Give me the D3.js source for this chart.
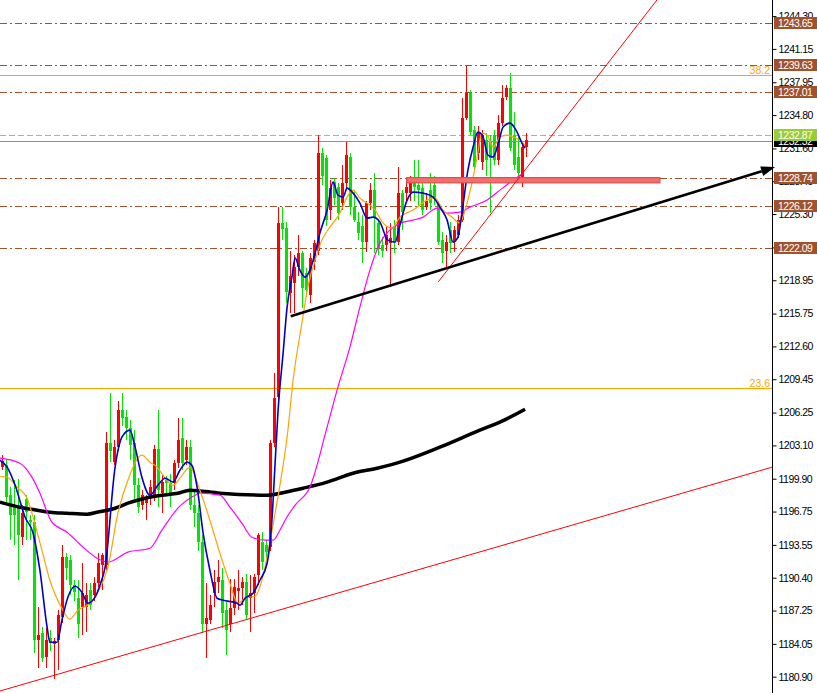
<!DOCTYPE html>
<html>
<head>
<meta charset="utf-8">
<script src="https://cdn.jsdelivr.net/npm/d3@7"></script>
<style>
  body { margin: 0; background: #fff; }
  text { font-family: "Liberation Sans", Arial, sans-serif; }
</style>
</head>
<body>
<div id="chart"></div>
<script>
// candles (oldest -> newest)
const opens = [1201.0,1201.2,1198.3,1197.4,1197.1,1194.3,1198.0,1195.9,1195.7,1184.4,
  1185.1,1182.8,1184.6,1184.0,1184.4,1186.6,1192.4,1192.1,1189.7,1188.5,
  1187.6,1187.6,1189.2,1188.7,1189.9,1191.6,1191.6,1203.3,1201.5,1202.9,
  1206.5,1205.8,1204.8,1203.3,1199.3,1197.4,1197.6,1198.1,1198.3,1202.8,
  1198.5,1199.8,1199.5,1199.5,1201.4,1203.8,1201.7,1202.9,1197.4,1196.6,
  1193.8,1186.0,1186.3,1188.9,1190.0,1190.2,1187.3,1186.0,1187.5,1189.1,
  1189.4,1190.0,1188.5,1188.9,1190.7,1193.8,1193.5,1193.3,1203.3,1207.7,
  1224.4,1224.0,1217.7,1218.7,1220.2,1221.6,1219.6,1217.5,1220.7,1221.8,
  1231.2,1230.7,1225.7,1228.4,1227.9,1226.4,1228.3,1230.8,1226.0,1224.5,
  1224.2,1222.6,1226.4,1227.6,1224.4,1222.3,1222.3,1222.5,1224.2,1222.6,
  1227.3,1227.3,1227.3,1228.3,1228.1,1227.8,1226.0,1227.6,1228.1,1226.4,
  1222.8,1221.8,1223.8,1222.6,1223.3,1224.7,1234.5,1236.9,1233.4,1231.2,
  1230.3,1232.4,1232.2,1232.9,1230.5,1234.0,1236.5,1237.4,1232.9,1230.8,
  1228.6,1231.7];
const highs = [1202.2,1201.7,1199.1,1199.8,1199.9,1197.4,1198.3,1196.4,1196.4,1187.6,
  1185.7,1185.6,1185.4,1184.6,1187.3,1193.5,1192.8,1192.6,1190.2,1190.2,
  1191.8,1189.9,1189.9,1190.5,1192.8,1192.8,1204.4,1208.1,1203.6,1207.4,
  1208.1,1206.5,1205.5,1204.6,1200.0,1198.8,1198.3,1199.8,1203.1,1206.5,
  1200.4,1200.2,1200.4,1201.7,1205.7,1205.7,1203.6,1203.6,1198.8,1197.4,
  1194.5,1189.9,1188.7,1191.1,1192.1,1191.3,1188.2,1190.3,1190.3,1191.1,
  1190.5,1190.8,1190.7,1190.8,1194.7,1194.8,1194.0,1203.6,1210.0,1226.0,
  1226.0,1224.5,1221.8,1221.4,1223.3,1221.8,1220.1,1221.6,1222.8,1232.9,
  1231.6,1231.0,1228.6,1228.8,1228.3,1230.0,1232.2,1231.2,1227.6,1225.5,
  1225.2,1226.6,1228.3,1229.2,1224.7,1223.1,1224.2,1224.4,1224.7,1229.8,
  1227.6,1228.8,1229.0,1230.5,1230.5,1228.6,1227.3,1229.2,1229.0,1226.6,
  1223.6,1223.3,1224.5,1224.2,1225.2,1236.4,1239.5,1237.2,1233.8,1233.8,
  1233.4,1233.1,1232.9,1233.4,1234.8,1237.7,1237.7,1238.8,1235.1,1232.7,
  1231.9,1233.1];
const lows = [1200.7,1197.4,1194.0,1193.5,1190.2,1193.5,1194.0,1194.0,1183.2,1181.7,
  1182.3,1181.7,1183.4,1180.7,1181.5,1186.1,1190.2,1188.7,1188.2,1184.6,
  1184.9,1185.2,1187.3,1188.2,1189.5,1189.2,1191.1,1201.5,1201.2,1202.6,
  1205.0,1203.6,1201.7,1197.8,1196.6,1196.9,1195.9,1197.4,1197.8,1197.2,
  1196.6,1198.3,1197.2,1198.8,1200.9,1200.7,1201.2,1196.9,1195.3,1193.0,
  1185.1,1182.7,1186.0,1187.6,1188.9,1185.6,1183.0,1185.2,1186.8,1187.3,
  1187.8,1186.3,1185.2,1187.0,1189.7,1191.1,1192.1,1193.0,1202.9,1207.4,
  1222.8,1216.8,1215.8,1215.8,1219.4,1216.3,1217.3,1216.8,1219.9,1221.4,
  1228.1,1224.2,1224.7,1226.2,1224.7,1225.7,1227.6,1225.2,1224.5,1222.8,
  1220.6,1221.7,1225.7,1221.6,1221.4,1221.2,1221.8,1218.5,1221.6,1222.3,
  1223.8,1226.6,1226.6,1226.6,1226.0,1225.2,1225.7,1225.7,1226.2,1222.3,
  1220.6,1220.2,1221.6,1221.7,1223.0,1224.5,1234.3,1232.9,1229.5,1230.5,
  1229.5,1229.0,1225.4,1230.0,1230.0,1233.8,1236.2,1231.4,1229.5,1228.3,
  1227.9,1230.8];
const closes = [1201.6,1198.1,1196.4,1196.4,1194.5,1196.6,1196.7,1195.7,1184.4,1184.9,
  1182.7,1184.4,1184.1,1184.3,1186.8,1192.4,1191.3,1189.7,1189.0,1186.0,
  1188.9,1188.7,1187.8,1189.9,1191.8,1192.6,1203.3,1202.6,1202.9,1206.5,
  1205.7,1204.8,1203.1,1199.3,1197.2,1198.3,1198.1,1199.1,1202.8,1198.8,
  1199.6,1199.5,1198.5,1201.4,1203.6,1201.4,1202.9,1197.4,1196.6,1193.8,
  1186.0,1186.5,1187.8,1190.0,1190.5,1187.0,1185.4,1187.5,1189.5,1189.4,
  1190.0,1186.8,1188.9,1190.5,1194.5,1191.9,1192.9,1203.3,1207.6,1224.4,
  1223.9,1217.8,1219.4,1220.2,1221.6,1218.2,1218.0,1221.1,1222.5,1231.2,
  1229.0,1224.7,1227.8,1226.8,1225.4,1228.3,1231.0,1226.0,1224.7,1223.5,
  1222.6,1226.4,1227.6,1225.0,1222.0,1221.8,1223.3,1223.0,1222.6,1227.3,
  1225.5,1227.9,1228.4,1227.9,1227.6,1225.7,1226.6,1226.4,1226.8,1222.6,
  1221.6,1222.6,1222.5,1223.8,1224.7,1234.5,1236.9,1233.2,1229.8,1233.2,
  1232.9,1230.5,1230.7,1230.5,1234.0,1236.4,1237.4,1231.6,1230.0,1229.2,
  1231.7,1232.4];

// moving averages as [bar index, price]
const maBlue = [[-0.7,1201.68],[1.1,1201.01],[3.1,1199.28],[5.6,1196.21],[7.6,1194.67],[9.3,1191.12],
  [11.1,1185.65],[11.8,1184.21],[13.6,1184.21],[14.8,1186.32],[16.3,1188.53],[18.1,1189.58],
  [19.8,1189.01],[21.3,1187.95],[23.1,1188.53],[24.3,1189.68],[25.6,1191.41],[28.1,1201.01],
  [29.8,1203.89],[31.8,1204.56],[33.1,1202.93],[34.8,1200.05],[36.8,1198.32],[38.8,1199.28],
  [40.6,1199.95],[42.6,1199.57],[44.3,1200.72],[46.1,1201.49],[47.3,1201.2],[48.6,1199.09],
  [50.1,1194.67],[51.8,1191.12],[53.6,1188.43],[55.1,1188.24],[58.6,1187.95],[59.3,1187.76],
  [60.6,1188.43],[62.6,1188.91],[64.3,1190.16],[66.1,1191.79],[67.3,1195.92],[68.1,1201.39],
  [68.8,1206.19],[70.1,1211.95],[71.1,1216.37],[72.3,1219.25],[73.1,1221.07],[74.3,1219.92],
  [75.6,1219.25],[76.8,1219.92],[78.1,1221.55],[79.3,1223.47],[81.1,1225.68],[82.6,1228.37],
  [83.8,1227.12],[85.1,1226.93],[86.1,1227.79],[87.6,1227.31],[89.3,1226.35],[91.1,1224.91],
  [92.6,1225.01],[94.3,1224.53],[96.3,1222.80],[98.1,1222.61],[99.3,1224.24],[101.1,1226.64],
  [102.6,1227.41],[105.1,1227.31],[107.6,1226.93],[109.3,1225.97],[111.1,1224.72],[112.6,1222.61],
  [113.8,1223.09],[114.8,1225.39],[116.3,1229.52],[117.6,1231.73],[118.8,1233.17],[120.1,1232.69],
  [121.3,1230.96],[122.6,1230.77],[123.8,1231.92],[125.1,1233.65],[126.8,1234.03],[128.6,1233.17],
  [129.8,1232.11],[130.6,1231.63]];
const maOrange = [[-0.7,1200.14],[1.1,1200.05],[3.6,1199.09],[6.1,1198.03],[7.6,1196.21],[9.8,1193.04],
  [11.8,1190.16],[14.8,1187.47],[16.8,1186.42],[18.8,1187.28],[21.8,1187.95],[23.8,1189.01],
  [26.3,1191.41],[28.8,1196.59],[31.3,1199.76],[34.8,1202.16],[36.8,1201.49],[38.6,1201.01],
  [40.6,1199.95],[42.6,1199.28],[44.3,1199.95],[46.3,1200.91],[46.8,1201.01],[49.3,1198.80],
  [51.8,1195.92],[54.3,1192.75],[56.8,1189.87],[58.8,1187.95],[61.1,1188.53],[63.1,1188.62],
  [64.8,1190.16],[66.3,1192.75],[68.1,1196.59],[69.8,1200.43],[71.1,1203.89],[72.6,1209.36],
  [74.8,1214.83],[76.3,1218.29],[78.1,1220.88],[79.8,1222.80],[81.8,1224.05],[84.3,1225.39],
  [86.1,1226.93],[87.6,1227.60],[89.3,1226.83],[91.1,1226.35],[93.1,1225.68],[95.1,1224.43],
  [97.3,1223.95],[99.3,1225.01],[102.6,1225.68],[106.1,1226.64],[108.1,1226.83],[110.1,1225.68],
  [112.3,1225.01],[114.3,1224.43],[115.6,1225.68],[117.3,1228.27],[118.6,1230.77],[119.8,1233.07],
  [121.1,1232.88],[122.6,1231.73],[124.3,1232.69],[126.1,1232.88],[127.6,1232.69],[129.3,1232.40],
  [130.6,1231.92]];
const maMagenta = [[-0.7,1201.87],[4.3,1201.39],[7.3,1200.05],[9.3,1198.51],[12.3,1195.73],[16.1,1194.77],
  [20.1,1193.33],[23.6,1192.27],[26.3,1191.89],[31.3,1192.85],[36.8,1193.23],[39.8,1194.96],
  [43.8,1197.07],[48.1,1198.32],[49.3,1198.51],[54.3,1198.32],[56.8,1197.17],[59.8,1195.63],
  [62.3,1194.29],[65.6,1194.00],[67.6,1194.00],[69.3,1194.96],[70.6,1195.92],[73.1,1197.36],
  [76.8,1199.09],[81.1,1204.85],[83.8,1208.69],[86.8,1212.53],[89.3,1216.37],[91.8,1219.92],
  [94.3,1222.51],[96.8,1223.76],[99.3,1224.43],[102.6,1224.72],[105.1,1225.01],[108.6,1225.87],
  [111.1,1225.39],[114.3,1225.49],[116.8,1225.97],[121.1,1226.64],[124.3,1227.60],[127.6,1228.56],
  [130.1,1229.23]];
const maBlack = [[-0.7,1197.65],[4.3,1197.17],[8.6,1196.88],[11.8,1196.69],[16.1,1196.59],[21.1,1196.50],
  [23.6,1196.69],[28.1,1197.07],[31.3,1197.55],[35.6,1198.03],[39.8,1198.32],[43.8,1198.51],
  [46.8,1198.80],[54.3,1198.51],[66.1,1198.32],[70.6,1198.61],[75.1,1198.99],[81.1,1199.57],
  [87.6,1200.43],[93.6,1200.91],[99.3,1201.49],[109.3,1202.93],[119.3,1204.56],[124.3,1205.33],
  [130.6,1206.57]];

// horizontal objects
const levelPrices = [1243.65, 1239.63, 1237.01, 1228.74, 1226.12, 1222.09];
const askPrice = 1232.87;
const bidPrice = 1232.32;
const fibNames = ['38.2', '23.6'];
const fibPrices = [1238.64, 1208.59];
const tickLabels = [1180.90, 1184.05, 1187.25, 1190.40, 1193.55, 1196.75, 1199.90, 1203.10,
  1206.25, 1209.45, 1212.60, 1215.75, 1218.95, 1222.10, 1225.30, 1228.45, 1231.60, 1234.80,
  1237.95, 1241.15, 1244.30];

// trend objects: [bar index, price]
const supportLine = [[13, 1181.05], [130, 1194.07]];
const steepLine = [[108.9, 1218.8], [134.3, 1231.37]];
const arrowLine = [[72.0, 1215.5], [193.1, 1229.81]];
const zoneBox = [[101, 1228.80], [164.3, 1228.30]];

const config = { div: '#chart', width: 817, height: 693, axisX: 772 };

const svg = d3.select(config.div).append('svg')
  .attr('width', config.width)
  .attr('height', config.height);

svg.append('rect').attr('width', config.width).attr('height', config.height).attr('fill', '#fff');

const x = d3.scaleLinear().domain([0, 131]).range([2.7, 526.7]);
const y = d3.scaleLinear().domain([1180.90, 1244.30]).range([676.7, 16.1]);

svg.append('clipPath').attr('id', 'plot')
  .append('rect').attr('x', 0).attr('y', 0).attr('width', config.axisX).attr('height', config.height);

const plot = svg.append('g').attr('clip-path', 'url(#plot)');

// horizontal level lines
plot.selectAll('line.level').data(levelPrices).enter().append('line')
  .attr('class', 'level')
  .attr('x1', 0).attr('x2', config.axisX)
  .attr('y1', d => Math.round(y(d)) + 0.5).attr('y2', d => Math.round(y(d)) + 0.5)
  .attr('stroke', '#a0522d').attr('stroke-dasharray', '7,3,2,3');

plot.append('line')
  .attr('x1', 0).attr('x2', config.axisX)
  .attr('y1', Math.round(y(askPrice)) + 0.5).attr('y2', Math.round(y(askPrice)) + 0.5)
  .attr('stroke', '#9acd32').attr('stroke-dasharray', '6,3');

plot.append('line')
  .attr('x1', 0).attr('x2', config.axisX)
  .attr('y1', Math.round(y(bidPrice)) + 0.5).attr('y2', Math.round(y(bidPrice)) + 0.5)
  .attr('stroke', '#8a9099');

fibPrices.forEach((p, k) => {
  plot.append('line')
    .attr('x1', 0).attr('x2', config.axisX)
    .attr('y1', Math.round(y(p)) + 0.5).attr('y2', Math.round(y(p)) + 0.5)
    .attr('stroke', '#ffa500');
  plot.append('text')
    .attr('x', config.axisX - 2).attr('y', Math.round(y(p)) - 1.5)
    .attr('text-anchor', 'end').attr('font-size', 10.5)
    .attr('fill', '#ffa500').text(fibNames[k]);
});

// candles
const bars = d3.range(opens.length).map(i => ({
  i: i, o: opens[i], h: highs[i], l: lows[i], c: closes[i]
}));
const up = d => d.c >= d.o;
const colour = d => up(d) ? '#ff0000' : '#00e600';

const cg = plot.append('g').attr('shape-rendering', 'crispEdges');
cg.selectAll('line').data(bars).enter().append('line')
  .attr('x1', d => Math.floor(x(d.i)) + 0.5)
  .attr('x2', d => Math.floor(x(d.i)) + 0.5)
  .attr('y1', d => y(Math.max(d.h, d.o, d.c)))
  .attr('y2', d => y(Math.min(d.l, d.o, d.c)))
  .attr('stroke', colour);
cg.selectAll('rect').data(bars).enter().append('rect')
  .attr('x', d => Math.floor(x(d.i)) - 1)
  .attr('width', 3)
  .attr('y', d => Math.round(y(Math.max(d.o, d.c))))
  .attr('height', d => Math.max(1, Math.round(y(Math.min(d.o, d.c))) - Math.round(y(Math.max(d.o, d.c)))))
  .attr('fill', colour);

// moving averages
const line = d3.line().x(d => x(d[0])).y(d => y(d[1])).curve(d3.curveMonotoneX);
plot.append('path').datum(maBlack).attr('d', line).attr('fill', 'none').attr('stroke', '#000').attr('stroke-width', 3.5);
plot.append('path').datum(maMagenta).attr('d', line).attr('fill', 'none').attr('stroke', '#ff00ff').attr('stroke-width', 1.2);
plot.append('path').datum(maOrange).attr('d', line).attr('fill', 'none').attr('stroke', '#ffa500').attr('stroke-width', 1.2);
plot.append('path').datum(maBlue).attr('d', line).attr('fill', 'none').attr('stroke', '#0000cd').attr('stroke-width', 1.6);

// zone box
plot.append('rect')
  .attr('x', x(zoneBox[0][0])).attr('width', x(zoneBox[1][0]) - x(zoneBox[0][0]))
  .attr('y', y(zoneBox[0][1])).attr('height', y(zoneBox[1][1]) - y(zoneBox[0][1]))
  .attr('fill', '#f07070').attr('stroke', '#e84848').attr('stroke-width', 1.2);

// trend lines, extended in pixel space
function extend(pts, both) {
  const x0 = x(pts[0][0]), y0 = y(pts[0][1]);
  const x1 = x(pts[1][0]), y1 = y(pts[1][1]);
  const k = (y1 - y0) / (x1 - x0);
  const xa = both ? 0 : x0;
  const xb = config.axisX;
  return [[xa, y0 + (xa - x0) * k], [xb, y0 + (xb - x0) * k]];
}
const sup = extend(supportLine, true);
plot.append('line')
  .attr('x1', sup[0][0]).attr('y1', sup[0][1]).attr('x2', sup[1][0]).attr('y2', sup[1][1])
  .attr('stroke', '#ff0000').attr('stroke-width', 1);
const st = extend(steepLine, false);
plot.append('line')
  .attr('x1', st[0][0]).attr('y1', st[0][1]).attr('x2', st[1][0]).attr('y2', st[1][1])
  .attr('stroke', '#ff0000').attr('stroke-width', 1);

// arrow
const ax0 = x(arrowLine[0][0]), ay0 = y(arrowLine[0][1]);
const ax1 = x(arrowLine[1][0]), ay1 = y(arrowLine[1][1]);
const ang = Math.atan2(ay1 - ay0, ax1 - ax0);
const headLen = 14, headW = 5;
const bx = ax1 - headLen * Math.cos(ang), by = ay1 - headLen * Math.sin(ang);
svg.append('line')
  .attr('x1', ax0).attr('y1', ay0).attr('x2', bx).attr('y2', by)
  .attr('stroke', '#000').attr('stroke-width', 2.6);
svg.append('path')
  .attr('d', `M${ax1},${ay1}L${bx - headW * Math.sin(ang)},${by + headW * Math.cos(ang)}L${bx + headW * Math.sin(ang)},${by - headW * Math.cos(ang)}Z`)
  .attr('fill', '#000');

// price axis
svg.append('line')
  .attr('x1', config.axisX + 0.5).attr('x2', config.axisX + 0.5)
  .attr('y1', 0).attr('y2', config.height)
  .attr('stroke', '#000');

const yAxis = svg.append('g')
  .attr('transform', `translate(${config.axisX + 0.5},0)`)
  .call(d3.axisRight(y).tickValues(tickLabels).tickSize(4).tickPadding(2).tickFormat(d3.format('.2f')));
yAxis.select('.domain').remove();
yAxis.selectAll('line').attr('stroke', '#000');
yAxis.selectAll('text')
  .attr('font-family', '"Liberation Sans", Arial, sans-serif')
  .attr('font-size', 10.5).attr('letter-spacing', -0.5).attr('fill', '#000');

// price tags on the axis
function tag(p, fill) {
  const yy = Math.round(y(p));
  svg.append('rect')
    .attr('x', config.axisX + 2).attr('y', yy - 6).attr('width', 43).attr('height', 12)
    .attr('fill', fill);
  svg.append('text')
    .attr('x', config.axisX + 6).attr('y', yy).attr('dy', '0.35em')
    .attr('font-size', 10.5).attr('letter-spacing', -0.5).attr('fill', '#fff')
    .text(d3.format('.2f')(p));
}
levelPrices.forEach(p => tag(p, '#a0522d'));
tag(bidPrice, '#000');
tag(askPrice, '#9acd32');
</script>
</body>
</html>
